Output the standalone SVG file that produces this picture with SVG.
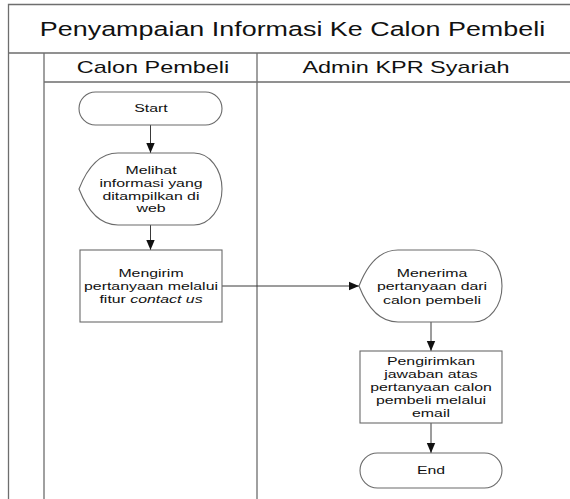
<svg xmlns="http://www.w3.org/2000/svg" width="570" height="499" viewBox="0 0 570 499">
<style>
.frame{fill:none;stroke:#6e6e6e;stroke-width:1.3}
.node{fill:#fff;stroke:#6a6a6a;stroke-width:1.1}
.conn{fill:none;stroke:#3a3a3a;stroke-width:1}
text{font-family:"Liberation Sans",Arial,sans-serif;fill:#111;text-anchor:middle}
.title{font-size:19.5px}
.hdr{font-size:17px}
.b{font-size:11.5px}
</style>
<defs>
<marker id="ah" markerUnits="userSpaceOnUse" markerWidth="10" markerHeight="10" viewBox="0 0 10 10" refX="10" refY="5" orient="auto">
<path d="M0,0.8 L10,5 L0,9.2 Z" fill="#111"/>
</marker>
</defs>
<rect width="570" height="499" fill="#fff"/>
<g id="pool">
<path class="frame" d="M8.5,499 V4.5 H575 M8.5,53 H575 M44,53 V499 M44,82 H575 M257,53 V499"/>
<text class="title" transform="translate(292.5,36) scale(1.38,1)">Penyampaian Informasi Ke Calon Pembeli</text>
<text class="hdr" transform="translate(153,73) scale(1.38,1)">Calon Pembeli</text>
<text class="hdr" transform="translate(406,73) scale(1.38,1)">Admin KPR Syariah</text>
</g>
<g id="connectors">
<line class="conn" x1="150.5" y1="125" x2="150.5" y2="153" marker-end="url(#ah)"/>
<line class="conn" x1="150.5" y1="225" x2="150.5" y2="250" marker-end="url(#ah)"/>
<line class="conn" x1="222" y1="286" x2="359" y2="286" marker-end="url(#ah)"/>
<line class="conn" x1="431" y1="322" x2="431" y2="351" marker-end="url(#ah)"/>
<line class="conn" x1="431" y1="423" x2="431" y2="453" marker-end="url(#ah)"/>
</g>
<g id="start">
<rect class="node" x="79" y="92" width="143" height="33" rx="16.5"/>
<text class="b" transform="translate(151,112) scale(1.38,1)">Start</text>
</g>
<g id="melihat">
<path class="node" d="M79,189 Q93,153 118,153 L194,153 A28,36 0 0 1 194,225 L118,225 Q93,225 79,189 Z"/>
<text class="b" transform="translate(151,174) scale(1.38,1)">Melihat</text>
<text class="b" transform="translate(151,187) scale(1.38,1)">informasi yang</text>
<text class="b" transform="translate(151,200) scale(1.38,1)">ditampilkan di</text>
<text class="b" transform="translate(151,212) scale(1.38,1)">web</text>
</g>
<g id="mengirim">
<rect class="node" x="80" y="250" width="142" height="72"/>
<text class="b" transform="translate(151,277) scale(1.38,1)">Mengirim</text>
<text class="b" transform="translate(151,290) scale(1.38,1)">pertanyaan melalui</text>
<text class="b" transform="translate(151,303) scale(1.38,1)">fitur <tspan font-style="italic">contact us</tspan></text>
</g>
<g id="menerima">
<path class="node" d="M359,286 Q373,250 398,250 L474,250 A28,36 0 0 1 474,322 L398,322 Q373,322 359,286 Z"/>
<text class="b" transform="translate(432,277) scale(1.38,1)">Menerima</text>
<text class="b" transform="translate(432,290) scale(1.38,1)">pertanyaan dari</text>
<text class="b" transform="translate(432,304) scale(1.38,1)">calon pembeli</text>
</g>
<g id="pengirimkan">
<rect class="node" x="360" y="351" width="142" height="72"/>
<text class="b" transform="translate(431,365) scale(1.38,1)">Pengirimkan</text>
<text class="b" transform="translate(431,378) scale(1.38,1)">jawaban atas</text>
<text class="b" transform="translate(431,391) scale(1.38,1)">pertanyaan calon</text>
<text class="b" transform="translate(431,404) scale(1.38,1)">pembeli melalui</text>
<text class="b" transform="translate(431,417) scale(1.38,1)">email</text>
</g>
<g id="end">
<rect class="node" x="360" y="453" width="142" height="35" rx="17.5"/>
<text class="b" transform="translate(431,474) scale(1.38,1)">End</text>
</g>
</svg>
